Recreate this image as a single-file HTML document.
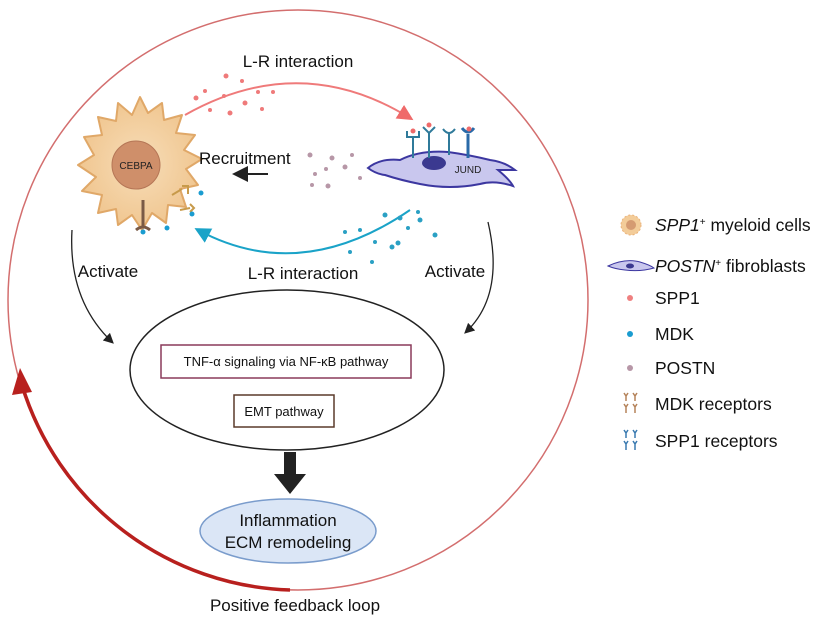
<!DOCTYPE html>
<html><head><meta charset="utf-8"><style>
body{margin:0;background:#fff;}
svg text{font-family:"Liberation Sans",Arial,sans-serif;}
</style></head><body>
<svg width="824" height="619" viewBox="0 0 824 619" xmlns="http://www.w3.org/2000/svg">
<defs>
<marker id="ar" markerWidth="8" markerHeight="8" refX="6" refY="4" orient="auto"><path d="M0,0 L8,4 L0,8 z" fill="#222"/></marker>
<marker id="arr" markerWidth="8" markerHeight="8" refX="6" refY="4" orient="auto"><path d="M0,0 L8,4 L0,8 z" fill="#ef6a6a"/></marker>
<marker id="arb" markerWidth="8" markerHeight="8" refX="6" refY="4" orient="auto"><path d="M0,0 L8,4 L0,8 z" fill="#1aa3c8"/></marker>
<radialGradient id="rg" cx="50%" cy="50%" r="50%"><stop offset="0" stop-color="#f7ddb8"/><stop offset="1" stop-color="#f0c690"/></radialGradient>
</defs>
<circle cx="298" cy="300" r="290" fill="none" stroke="#c84a4a" stroke-width="1.5" opacity="0.8"/>
<path d="M290,590 A290,290 0 0 1 22,385" fill="none" stroke="#b8201e" stroke-width="3.5"/>
<path d="M12,395 L20,368 L32,392 z" fill="#b8201e"/>
<text x="298" y="67" font-size="17" text-anchor="middle" fill="#111">L-R interaction</text>
<path d="M185,115 Q300,50 410,118" fill="none" stroke="#ef7a7a" stroke-width="2" marker-end="url(#arr)"/>
<g fill="#ef7a7a">
<circle cx="196" cy="98" r="2.5"/><circle cx="205" cy="91" r="2"/><circle cx="226" cy="76" r="2.5"/><circle cx="242" cy="81" r="2"/><circle cx="224" cy="96" r="2"/><circle cx="245" cy="103" r="2.5"/><circle cx="210" cy="110" r="2"/><circle cx="258" cy="92" r="2"/><circle cx="230" cy="113" r="2.5"/><circle cx="262" cy="109" r="2"/><circle cx="273" cy="92" r="2"/>
</g>
<g transform="translate(140,165)">
<path d="M0,-68 L8,-52 L22,-62 L24,-45 L42,-50 L36,-32 L55,-30 L44,-15 L62,-6 L46,4 L58,20 L40,24 L46,42 L28,40 L26,58 L12,48 L2,65 L-8,50 L-22,60 L-24,44 L-42,48 L-38,30 L-58,26 L-44,12 L-62,0 L-46,-10 L-56,-28 L-38,-30 L-42,-48 L-24,-44 L-22,-62 L-8,-50 z" fill="url(#rg)" stroke="#e0a868" stroke-width="2" stroke-linejoin="round"/>
<circle cx="-4" cy="0" r="24" fill="#cf8f6a" stroke="#b57656"/>
<text x="-4" y="4" font-size="10" text-anchor="middle" fill="#222">CEBPA</text>
</g>
<g stroke="#7a5a46" stroke-width="3" fill="none"><path d="M143,200 L143,228"/><path d="M136,230 q7,-6 14,0"/></g>
<g stroke="#c79a4a" stroke-width="2" fill="none"><path d="M172,195 l10,-6"/><path d="M182,186 l6,0 l0,8"/><path d="M180,210 l10,-2"/><path d="M190,204 l4,4 l-4,4"/></g>
<g fill="#1a9cd0"><circle cx="201" cy="193" r="2.5"/><circle cx="192" cy="214" r="2.5"/><circle cx="143" cy="232" r="2.5"/><circle cx="167" cy="228" r="2.5"/></g>
<path d="M368,168 Q380,158 400,160 Q420,150 448,152 Q470,155 490,160 Q505,162 515,170 L498,170 Q510,180 513,186 Q495,180 480,184 Q450,190 420,184 Q400,180 385,175 Q376,174 368,168 z" fill="#c9c7ee" stroke="#3c37a0" stroke-width="2"/>
<ellipse cx="434" cy="163" rx="12" ry="7" fill="#3b3990"/>
<text x="468" y="173" font-size="10" fill="#222" text-anchor="middle">JUND</text>
<g stroke="#2f7a9a" stroke-width="2" fill="none">
<path d="M413,158 L413,137"/><path d="M407,131 v6 h12 v-6"/>
<path d="M429,158 L429,133"/><path d="M423,127 l6,6 l6,-6"/>
<path d="M449,155 L449,133"/><path d="M443,129 q6,8 12,0"/>
<path d="M468,158 L468,134" stroke="#2a6aa8" stroke-width="3"/><path d="M462,128 q6,8 12,0" stroke="#2a6aa8" stroke-width="3"/>
</g>
<g fill="#ef6a6a"><circle cx="413" cy="131" r="2.5"/><circle cx="429" cy="125" r="2.5"/><circle cx="469" cy="129" r="2.5"/></g>
<text x="199" y="164" font-size="17" fill="#111">Recruitment</text>
<path d="M268,174 L236,174" stroke="#222" stroke-width="2" marker-end="url(#ar)"/>
<g fill="#b797a7"><circle cx="310" cy="155" r="2.5"/><circle cx="332" cy="158" r="2.5"/><circle cx="315" cy="174" r="2"/><circle cx="326" cy="169" r="2"/><circle cx="345" cy="167" r="2.5"/><circle cx="352" cy="155" r="2"/><circle cx="312" cy="185" r="2"/><circle cx="328" cy="186" r="2.5"/><circle cx="360" cy="178" r="2"/></g>
<path d="M410,210 Q300,285 198,230" fill="none" stroke="#1aa3c8" stroke-width="2" marker-end="url(#arb)"/>
<g fill="#2aa0c4"><circle cx="385" cy="215" r="2.5"/><circle cx="400" cy="218" r="2.5"/><circle cx="420" cy="220" r="2.5"/><circle cx="408" cy="228" r="2"/><circle cx="435" cy="235" r="2.5"/><circle cx="345" cy="232" r="2"/><circle cx="360" cy="230" r="2"/><circle cx="375" cy="242" r="2"/><circle cx="392" cy="247" r="2.5"/><circle cx="350" cy="252" r="2"/><circle cx="372" cy="262" r="2"/><circle cx="418" cy="212" r="2"/><circle cx="398" cy="243" r="2.5"/></g>
<text x="303" y="279" font-size="17" text-anchor="middle" fill="#111">L-R interaction</text>
<path d="M72,230 Q68,300 112,342" fill="none" stroke="#222" stroke-width="1.3" marker-end="url(#ar)"/>
<text x="108" y="277" font-size="17" text-anchor="middle" fill="#111">Activate</text>
<path d="M488,222 Q505,295 466,332" fill="none" stroke="#222" stroke-width="1.3" marker-end="url(#ar)"/>
<text x="455" y="277" font-size="17" text-anchor="middle" fill="#111">Activate</text>
<ellipse cx="287" cy="370" rx="157" ry="80" fill="#fff" stroke="#222" stroke-width="1.5"/>
<rect x="161" y="345" width="250" height="33" fill="#fff" stroke="#8a3a5a" stroke-width="1.5"/>
<text x="286" y="366" font-size="13" text-anchor="middle" fill="#111">TNF-α signaling via NF-κB pathway</text>
<rect x="234" y="395" width="100" height="32" fill="#fff" stroke="#5a3a2a" stroke-width="1.5"/>
<text x="284" y="416" font-size="13" text-anchor="middle" fill="#111">EMT pathway</text>
<path d="M284,452 v22 h-10 l16,20 l16,-20 h-10 v-22 z" fill="#222"/>
<ellipse cx="288" cy="531" rx="88" ry="32" fill="#dbe6f6" stroke="#7a9ccc" stroke-width="1.5"/>
<text x="288" y="526" font-size="17" text-anchor="middle" fill="#111">Inflammation</text>
<text x="288" y="548" font-size="17" text-anchor="middle" fill="#111">ECM remodeling</text>
<text x="295" y="611" font-size="17" text-anchor="middle" fill="#111">Positive feedback loop</text>
<circle cx="631" cy="225" r="10" fill="#f3cc99" stroke="#eab27a" stroke-dasharray="2 2"/><circle cx="631" cy="225" r="5" fill="#d59b72"/>
<g font-size="17.5" fill="#111">
<text x="655" y="231"><tspan font-style="italic">SPP1</tspan><tspan font-size="10" dy="-6">+</tspan><tspan dy="6"> myeloid cells</tspan></text>
<text x="655" y="272"><tspan font-style="italic">POSTN</tspan><tspan font-size="10" dy="-6">+</tspan><tspan dy="6"> fibroblasts</tspan></text>
<text x="655" y="304">SPP1</text>
<text x="655" y="340">MDK</text>
<text x="655" y="374">POSTN</text>
<text x="655" y="410">MDK receptors</text>
<text x="655" y="447">SPP1 receptors</text>
</g>
<path d="M608,266 Q625,258 640,262 Q650,265 654,268 Q640,272 625,270 Q615,269 608,266 z" fill="#c9c7ee" stroke="#3c37a0"/>
<ellipse cx="630" cy="266" rx="4" ry="2.5" fill="#3b3990"/>
<circle cx="630" cy="298" r="3" fill="#ef8080"/>
<circle cx="630" cy="334" r="3" fill="#1a9cd0"/>
<circle cx="630" cy="368" r="3" fill="#b797a7"/>
<g stroke="#b5835a" stroke-width="1.5" fill="none"><path d="M624,393 l2,3 l2,-3 M626,396 v5 M633,393 l2,3 l2,-3 M635,396 v5 M624,404 l2,3 l2,-3 M626,407 v6 M633,404 l2,3 l2,-3 M635,407 v6"/></g>
<g stroke="#3a7ab0" stroke-width="1.5" fill="none"><path d="M624,430 l2,3 l2,-3 M626,433 v5 M633,430 l2,3 l2,-3 M635,433 v5 M624,441 l2,3 l2,-3 M626,444 v6 M633,441 l2,3 l2,-3 M635,444 v6"/></g>
</svg>
</body></html>
